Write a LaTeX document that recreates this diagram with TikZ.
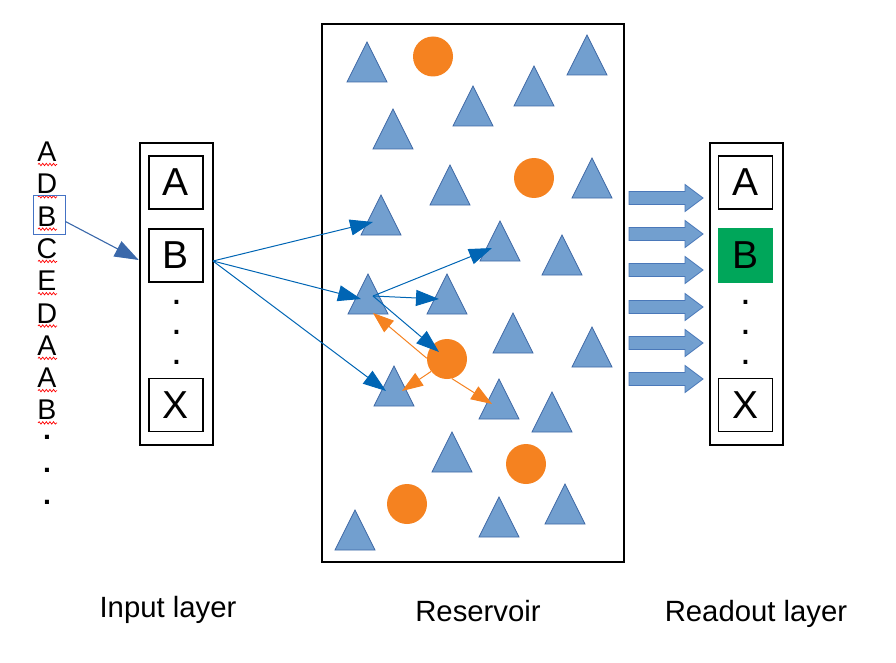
\documentclass[tikz,border=0pt]{standalone}
\usepackage{fontspec}
\setmainfont{Liberation Sans}
\usetikzlibrary{arrows.meta,decorations.pathmorphing,calc}
\definecolor{triF}{RGB}{114,159,207}
\definecolor{triD}{RGB}{62,104,165}
\definecolor{orng}{RGB}{245,130,32}
\definecolor{arrB}{RGB}{0,101,180}
\definecolor{inArr}{RGB}{58,104,170}
\definecolor{grn}{RGB}{0,166,90}
\definecolor{blkD}{RGB}{74,120,185}
\definecolor{seqbox}{RGB}{68,114,196}
\newcommand\mytri[3]{\coordinate (#1) at (#2,#3);
  \filldraw[tri] (#2-20,#3+20) -- (#2+20,#3+20) -- (#2,#3-20) -- cycle;}
\begin{document}
\begin{tikzpicture}[x=1pt,y=-1pt,
  tri/.style={fill=triF,draw=triD,line width=0.8pt,line join=miter},
  circ/.style={circle,fill=orng,draw=none,minimum size=40pt,inner sep=0pt},
  frame/.style={draw=black,line width=2.6pt,inner sep=0pt},
  cell/.style={draw=black,line width=1.3pt,minimum width=54pt,minimum height=53pt,inner sep=0pt,font=\fontsize{39}{39}\selectfont},
  barrow/.style={draw=arrB,line width=1pt,-{Triangle[length=23pt,width=16pt]},arrB},
  oarrow/.style={draw=orng,line width=1pt,-{Triangle[length=21pt,width=15pt]},orng},
  inarrow/.style={draw=inArr,line width=1.1pt,-{Triangle[length=24pt,width=17pt]},inArr},
  blk/.style={fill=triF,draw=blkD,line width=0.8pt},
  seqletter/.style={anchor=base,inner sep=0pt,text height=20pt,text depth=0pt,font=\fontsize{28.5}{28.5}\selectfont},
  squig/.style={draw=red,line width=0.7pt,decorate,decoration={snake,amplitude=1.2pt,segment length=3.6pt}},
  dotsty/.style={anchor=base,inner sep=0pt,text height=4pt,text depth=0pt,font=\fontsize{39}{39}\selectfont},
  lbl/.style={anchor=base,inner sep=0pt,font=\fontsize{29.3}{29.3}\selectfont}]
\useasboundingbox (0,0) rectangle (896,663);

% ---------- sequence ----------
\foreach \L [count=\i from 0] in {A,D,B,C,E,D,A,A,B}{
  \pgfmathsetmacro\b{161.5+32.3*\i}
  \node[seqletter] (s\i) at (47,\b) {\L};
  \draw[squig] (38,\b+3) -- (57,\b+3);
}
\foreach \c [count=\i] in {437,470,502}
  \node[seqletter,text height=4pt,font=\fontsize{28.5}{28.5}\selectfont\bfseries] (sd\i) at (47,\c+2) {.};
\node[draw=seqbox,line width=0.9pt,minimum width=32pt,minimum height=39pt,inner sep=0pt] (sbox) at (49,214.5) {};

% ---------- input layer ----------
\node[frame,minimum width=73pt,minimum height=302pt] (inL) at (176.5,294) {};
\node[cell] (inA) at (176,182.5) {A};
\node[cell] (inB) at (176,255.5) {B};
\node[cell] (inX) at (176,405) {X};
\foreach \y [count=\i] in {302,332,362}
  \node[dotsty] (ind\i) at (177,\y+2) {.};

% ---------- reservoir ----------
\node[frame,minimum width=302pt,minimum height=538pt] (res) at (473,293) {};
\mytri{t1}{367}{62}
\node[circ] (c2) at (433,56.5) {};
\mytri{t3}{587}{55}
\mytri{t4}{534}{86}
\mytri{t5}{473}{106}
\mytri{t6}{393}{129}
\node[circ] (c7) at (534,178) {};
\mytri{t8}{450}{185}
\mytri{t9}{592}{178}
\mytri{t10}{381}{215}
\mytri{t11}{500}{241}
\mytri{t12}{562}{255}
\mytri{t13}{368}{294}
\mytri{t14}{447}{294}
\mytri{t15}{513}{333}
\mytri{t16}{592}{347}
\node[circ] (c17) at (447,359) {};
\mytri{t18}{394}{386}
\mytri{t19}{499}{399}
\mytri{t20}{552}{412}
\mytri{t21}{452}{452}
\node[circ] (c22) at (526,464) {};
\mytri{t23}{565}{504}
\node[circ] (c24) at (407,504) {};
\mytri{t25}{499}{517}
\mytri{t26}{355}{530}

% ---------- readout layer ----------
\node[frame,minimum width=73pt,minimum height=302pt] (outL) at (746.5,294) {};
\node[cell] (outA) at (745.5,182.5) {A};
\node[cell,fill=grn,draw=grn] (outB) at (745.5,255.5) {B};
\node[cell] (outX) at (745.5,405) {X};
\foreach \y [count=\i] in {302,332,362}
  \node[dotsty] (outd\i) at (746,\y+2) {.};

% block arrows
\foreach \y in {198,234,270,307,343,379}
  \filldraw[blk] (629,\y-6.5) -- (685,\y-6.5) -- (685,\y-13.5) -- (703,\y)
     -- (685,\y+13.5) -- (685,\y+6.5) -- (629,\y+6.5) -- cycle;

% ---------- connectors ----------
\draw[inarrow] ([yshift=-7pt]sbox.east) -- ([yshift=34pt]inL.west);
\coordinate (src) at (213,261);
\draw[barrow] (src) -- ([shift={(-8,7)}]t10);
\draw[barrow] (src) -- ([shift={(-7,5)}]t13);
\draw[barrow] (src) -- ([shift={(-8,5)}]t18);
\coordinate (hub) at ([shift={(5,2)}]t13);
\draw[barrow] (hub) -- ([shift={(-8,7)}]t11);
\draw[barrow] (hub) -- ([shift={(-8,5)}]t14);
\draw[barrow] (hub) -- ([shift={(-8,-7)}]c17.center);
\draw[oarrow] (c17.178) -- ([shift={(5,19)}]t13);
\draw[oarrow] (c17.218) -- ([shift={(8,5)}]t18);
\draw[oarrow] (c17.-76) -- ([shift={(-7,5)}]t19);

% ---------- labels ----------
\node[lbl] (lin) at (168,617) {Input layer};
\node[lbl] (lres) at (478,621) {Reservoir};
\node[lbl] (lout) at (756,621) {Readout layer};
\end{tikzpicture}
\end{document}
